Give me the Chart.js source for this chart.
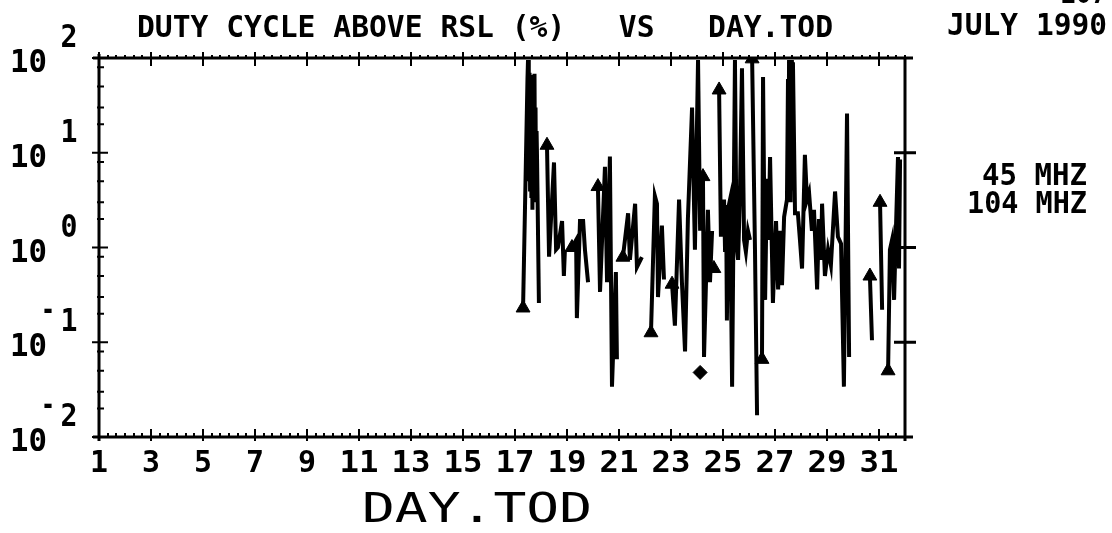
<!DOCTYPE html>
<html>
<head>
<meta charset="utf-8">
<script src="https://cdn.jsdelivr.net/npm/chart.js@4.4.0/dist/chart.umd.min.js"></script>
<style>
  html, body { margin: 0; padding: 0; background: #fff; }
  #wrap { width: 1112px; height: 533px; position: relative; }
</style>
</head>
<body>
<div id="wrap"><canvas id="dutyChart" width="1112" height="533"></canvas></div>
<script>
// 45 MHz trace. null = gap in the record, a new trace starts with a triangle
const days45 = [
  17.31, 17.48, 17.50, 17.53, 17.56, 17.58, 17.61, 17.63, 17.65, 17.67, 17.70, 17.72,
  17.75, 17.77, 17.79, 17.81, 17.83, 17.85, 17.92, 18.05,
  18.23, 18.31, 18.50, 18.58, 18.65, 18.81, 18.88, 18.92, 19.05,
  19.19, 19.35, 19.38, 19.50, 19.62, 19.69, 19.81, 20.00,
  20.19, 20.27, 20.46, 20.54, 20.65, 20.73, 20.88, 20.92, 21.05,
  21.15, 21.35, 21.42, 21.62, 21.69, 21.88, 22.05,
  22.23, 22.38, 22.46, 22.50, 22.65, 22.73, 22.90,
  23.04, 23.15, 23.31, 23.42, 23.54, 23.65, 23.81, 23.92, 24.04, 24.12, 24.18,
  24.23, 24.27, 24.42, 24.50, 24.58, 24.60,
  24.65, 24.75, 24.80,
  24.85, 24.92, 25.00, 25.04, 25.08, 25.12, 25.15, 25.20, 25.27, 25.35, 25.46, 25.52,
  25.58, 25.65, 25.73, 25.81, 25.88, 25.96, 26.04, 26.08,
  26.12, 26.23, 26.31, 26.40,
  26.50, 26.54, 26.62, 26.69, 26.75, 26.81, 26.88, 26.92, 27.04, 27.12, 27.19, 27.27, 27.35,
  27.46, 27.50, 27.52, 27.54, 27.56, 27.58, 27.60, 27.62, 27.65, 27.69, 27.77, 27.88,
  27.96, 28.04, 28.15, 28.23, 28.31, 28.42,
  28.50, 28.62, 28.69, 28.77, 28.81, 28.92, 29.04, 29.15, 29.31, 29.42, 29.54, 29.65,
  29.77, 29.85, 30.20,
  30.65, 30.73, 30.90,
  31.04, 31.12, 31.20,
  31.35, 31.42, 31.50, 31.58, 31.65, 31.73, 31.77, 31.81
];
const duty45 = [
  0.23, 60, 95, 5, 70, 4.1, 40, 3.5, 66, 2.5, 50, 3,
  68, 5, 30, 3.2, 17, 8, 0.26, null,
  12, 0.8, 7.9, 0.95, 1.0, 1.9, 0.5, 0.95, null,
  1.0, 1.2, 0.18, 1.9, 1.9, 0.95, 0.43, null,
  4.4, 0.34, 7.1, 0.43, 9.1, 0.034, 0.55, 0.066, null,
  0.79, 2.3, 0.74, 2.9, 0.62, 0.79, null,
  0.126, 3.5, 2.9, 0.3, 1.7, 0.46, null,
  0.41, 0.15, 3.2, 0.43, 0.08, 2.0, 30, 0.95, 95, 1.5, null,
  5.6, 0.07, 2.5, 0.43, 1.5, null,
  0.6, 0.6, null,
  46, 1.3, 2.5, 3.2, 0.9, 2.8, 0.17, 2.6, 3.2, 0.034, 95, 1.1,
  0.74, 3.5, 78, 1.2, 0.9, 1.5, 1.2, null,
  98, 0.95, 0.017, null,
  0.066, 63, 0.28, 5.3, 1.2, 9, 0.95, 0.26, 1.9, 0.36, 1.5, 0.4, 2.1,
  3.2, 60, 4, 95, 5, 80, 3, 95, 4, 90, 2.3, 2.3,
  1.2, 0.6, 9.5, 3.2, 3.8, 1.5,
  2.5, 0.36, 2.0, 0.74, 2.9, 0.5, 0.95, 0.65, 3.9, 1.3, 1.1, 0.034,
  26, 0.07, null,
  0.5, 0.105, null,
  3.0, 0.22, null,
  0.05, 0.95, 1.2, 0.28, 1.5, 9, 0.6, 8.5
];
// 104 MHz: a single reading
const days104 = [24.12];
const duty104 = [0.048];

const xTickLabels = [1, 3, 5, 7, 9, 11, 13, 15, 17, 19, 21, 23, 25, 27, 29, 31];
const yDecades = [2, 1, 0, -1, -2];
const yMinorMult = [2, 3, 5, 8];
const rightTicks = [10, 1, 0.1];
const legendLabels = ['45 MHZ', '104 MHZ'];
const chartTitle = 'DUTY CYCLE ABOVE RSL (%)   VS   DAY.TOD';
const dateLabel = 'JULY 1990';
const xAxisTitle = 'DAY.TOD';
const pageNo = '107';

const MONO = '"DejaVu Sans Mono", monospace';

function segStart(i) {
  if (duty45[i] == null) return false;
  return i === 0 || duty45[i - 1] == null;
}

// squeeze/stretch a string to a given ink width
function fitText(ctx, text, x, y, width, size, align, weight) {
  ctx.save();
  ctx.font = (weight || 'bold') + ' ' + size + 'px ' + MONO;
  const w = ctx.measureText(text).width;
  let left = x;
  if (align === 'right') left = x - width;
  if (align === 'center') left = x - width / 2;
  ctx.translate(left, y);
  ctx.scale(width / w, 1);
  ctx.textAlign = 'left';
  ctx.textBaseline = 'alphabetic';
  ctx.fillStyle = '#000';
  ctx.fillText(text, 0, 0);
  ctx.restore();
}

const frame = {
  id: 'frame',
  beforeDraw(chart) {
    const ctx = chart.ctx;
    ctx.save();
    ctx.fillStyle = '#fff';
    ctx.fillRect(0, 0, chart.width, chart.height);
    ctx.restore();
  },
  afterDatasetsDraw(chart) {
    const ctx = chart.ctx;
    const xs = chart.scales.x, ys = chart.scales.y;
    const a = chart.chartArea;
    ctx.save();
    ctx.strokeStyle = '#000';
    ctx.lineCap = 'butt';

    ctx.lineWidth = 3;
    ctx.beginPath();
    ctx.moveTo(a.left - 6, a.top); ctx.lineTo(a.right + 8, a.top);
    ctx.moveTo(a.left - 6, a.bottom); ctx.lineTo(a.right + 8, a.bottom);
    ctx.moveTo(a.left, a.top - 4); ctx.lineTo(a.left, a.bottom + 4);
    ctx.moveTo(a.right, a.top); ctx.lineTo(a.right, a.bottom + 4);
    ctx.stroke();

    // x ticks, top and bottom
    ctx.lineWidth = 2;
    ctx.beginPath();
    for (let k = 0; k <= 93; k++) {
      const d = 1 + k / 3;
      const px = Math.round(xs.getPixelForValue(d));
      const major = k % 6 === 0;
      const up = major ? 8 : 4, dn = major ? 4 : 1;
      ctx.moveTo(px, a.bottom + dn); ctx.lineTo(px, a.bottom - up);
      ctx.moveTo(px, a.top - dn - 2); ctx.lineTo(px, a.top + (major ? up : 1));
    }
    ctx.stroke();

    // y ticks, left
    ctx.beginPath();
    yDecades.forEach(e => {
      const v = Math.pow(10, e);
      const py = ys.getPixelForValue(v);
      ctx.moveTo(a.left - 7, py); ctx.lineTo(a.left + 9, py);
      if (e > -2) {
        yMinorMult.forEach(m => {
          const q = ys.getPixelForValue(m * v / 10);
          ctx.moveTo(a.left - 2, q); ctx.lineTo(a.left + 5, q);
        });
      }
    });
    ctx.stroke();

    // y ticks, right
    ctx.lineWidth = 3;
    ctx.beginPath();
    rightTicks.forEach(v => {
      const py = ys.getPixelForValue(v);
      ctx.moveTo(a.right - 11, py); ctx.lineTo(a.right + 11, py);
    });
    ctx.stroke();
    ctx.restore();
  },
  afterDraw(chart) {
    const ctx = chart.ctx;
    const xs = chart.scales.x, ys = chart.scales.y;

    // y labels: 10 with exponent
    yDecades.forEach(e => {
      const py = ys.getPixelForValue(Math.pow(10, e));
      fitText(ctx, '10', 10, py + 14, 37, 32);
      fitText(ctx, String(Math.abs(e)), 69, py - 11, 17, 32, 'center');
      if (e < 0) fitText(ctx, '-', 48, py - 22, 14, 30, 'center');
    });

    // x labels
    xTickLabels.forEach(d => {
      const px = xs.getPixelForValue(d);
      const s = String(d);
      fitText(ctx, s, px, 472, s.length * 21 - 3, 31, 'center');
    });

    fitText(ctx, chartTitle, 137, 37, 696, 31);
    fitText(ctx, dateLabel, 947, 35, 160, 31);
    fitText(ctx, pageNo, 1060, 3, 47, 30);
    fitText(ctx, legendLabels[0], 1087, 185, 105, 30, 'right');
    fitText(ctx, legendLabels[1], 1087, 213, 120, 30, 'right');

    // axis title, thin pen
    fitText(ctx, xAxisTitle, 362, 522, 230, 41, 'left', 'normal');
  }
};

new Chart(document.getElementById('dutyChart'), {
  type: 'line',
  data: {
    datasets: [
      {
        label: legendLabels[0],
        data: days45.map((d, i) => ({ x: d, y: duty45[i] })),
        borderColor: '#000',
        backgroundColor: '#000',
        borderWidth: 4,
        tension: 0,
        spanGaps: false,
        pointStyle: 'triangle',
        pointRadius: c => segStart(c.dataIndex) ? 8 : 0,
        pointHoverRadius: 0,
        pointBorderWidth: 1
      },
      {
        label: legendLabels[1],
        data: days104.map((d, i) => ({ x: d, y: duty104[i] })),
        showLine: false,
        borderColor: '#000',
        backgroundColor: '#000',
        pointStyle: 'rectRot',
        pointRadius: 7,
        pointBorderWidth: 1
      }
    ]
  },
  options: {
    responsive: false,
    animation: false,
    events: [],
    layout: { padding: { left: 99, right: 207, top: 58, bottom: 96 } },
    plugins: { legend: { display: false }, tooltip: { enabled: false }, title: { display: false } },
    scales: {
      x: { type: 'linear', min: 1, max: 32, display: false },
      y: { type: 'logarithmic', min: 0.01, max: 100, display: false }
    }
  },
  plugins: [frame]
});
</script>
</body>
</html>
